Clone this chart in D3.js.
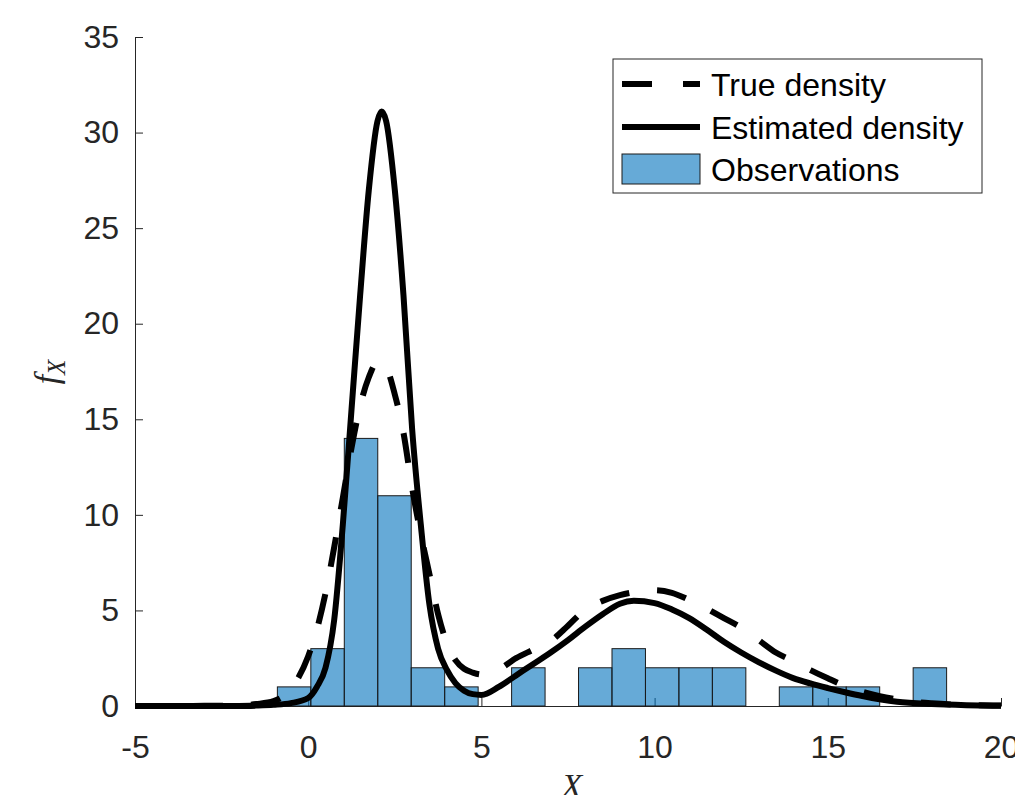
<!DOCTYPE html>
<html>
<head>
<meta charset="utf-8">
<script src="https://d3js.org/d3.v7.min.js"></script>
<style>
  body { margin: 0; background: #fff; }
  svg { display: block; }
</style>
</head>
<body>
<svg id="chart" width="1015" height="795"></svg>
<script>
// histogram of observations (bin edges + counts)
var binEdges = [-0.89, 0.076, 1.042, 2.008, 2.974, 3.94, 4.906, 5.872, 6.838, 7.804, 8.77,
  9.736, 10.702, 11.668, 12.634, 13.6, 14.566, 15.532, 16.498, 17.464, 18.43];
var binCounts = [1, 3, 14, 11, 2, 1, 0, 2, 0, 2, 3, 2, 2, 2, 0, 1, 1, 1, 0, 2];

// true density (dashed)
var trueX = [-5, -4, -3, -2, -1.5, -1, -0.5, 0, 0.25, 0.5, 0.75, 1, 1.25, 1.5, 1.75, 2, 2.25, 2.5, 2.75, 3,
  3.25, 3.5, 3.75, 4, 4.25, 4.5, 4.75, 5, 5.25, 5.5, 6, 6.5, 7, 7.5, 8, 8.5, 9, 9.5, 10, 10.5, 11, 11.5,
  12, 12.5, 13, 13.5, 14, 14.5, 15, 15.5, 16, 16.5, 17, 17.5, 18, 19, 20];
var trueY = [0, 0, 0.01, 0.03, 0.1, 0.25, 0.9, 2.6, 4.0, 5.9, 8.3, 10.9, 13.5, 15.7, 17.2, 18.0, 17.7, 16.3, 14.3, 11.4,
  9.0, 6.9, 4.8, 3.3, 2.4, 1.95, 1.75, 1.65, 1.7, 1.9, 2.5, 2.95, 3.4, 4.2, 5.05, 5.5, 5.8, 5.98, 6.06, 5.92, 5.55, 5.1,
  4.6, 4.1, 3.45, 2.8, 2.35, 1.88, 1.45, 1.05, 0.75, 0.52, 0.35, 0.22, 0.14, 0.05, 0.02];

// estimated density (solid)
var estX = [-5, -3, -2, -1.5, -1, -0.5, 0, 0.25, 0.5, 0.75, 1, 1.25, 1.5, 1.75, 2, 2.12, 2.25, 2.5, 2.75, 3,
  3.25, 3.5, 3.75, 4, 4.25, 4.5, 4.75, 5, 5.5, 6, 6.5, 7, 7.5, 8, 8.5, 9, 9.4, 10, 10.5, 11, 11.5, 12,
  12.5, 13, 13.5, 14, 14.5, 15, 15.5, 16, 17, 18, 19, 20];
var estY = [0, 0, 0, 0.02, 0.06, 0.15, 0.42, 1.0, 2.0, 4.5, 9.5, 15.5, 21.5, 27, 30.6, 31.1, 30.6, 27, 21.5, 14.5,
  9.5, 5.3, 3.0, 1.9, 1.2, 0.8, 0.62, 0.58, 1.0, 1.6, 2.2, 2.8, 3.45, 4.15, 4.8, 5.35, 5.5, 5.38, 5.05, 4.6, 4.0, 3.36,
  2.8, 2.3, 1.85, 1.46, 1.18, 0.94, 0.72, 0.52, 0.22, 0.1, 0.04, 0.01];

var xTicks = [-5, 0, 5, 10, 15, 20];
var yTicks = [0, 5, 10, 15, 20, 25, 30, 35];
var legendLabels = ["True density", "Estimated density", "Observations"];

var axisColor = "#262626";
var barColor = "#0072BD";
var font = "'Liberation Sans', Arial, Helvetica, sans-serif";

var svg = d3.select("#chart");
var plot = { left: 135, right: 1001, top: 37, bottom: 706 };

var x = d3.scaleLinear().domain([-5, 20]).range([plot.left, plot.right]);
var y = d3.scaleLinear().domain([0, 35]).range([plot.bottom, plot.top]);

// plain hyphen for negatives, like matlab
var fmt = function (d) { return String(d); };

// axes (drawn below the data, like matlab)
var xAxis = svg.append("g")
  .attr("transform", "translate(0," + plot.bottom + ")")
  .call(d3.axisBottom(x).tickValues(xTicks).tickFormat(fmt).tickSizeInner(-8).tickSizeOuter(0).tickPadding(29));
var yAxis = svg.append("g")
  .attr("transform", "translate(" + plot.left + ",0)")
  .call(d3.axisLeft(y).tickValues(yTicks).tickFormat(fmt).tickSizeInner(-8).tickSizeOuter(0).tickPadding(16));

[xAxis, yAxis].forEach(function (g) {
  g.selectAll("path, line").attr("stroke", axisColor).attr("stroke-width", 1);
  g.selectAll("text")
    .attr("fill", axisColor)
    .style("font-family", font)
    .style("font-size", "32px");
});

// curves
var trueData = trueX.map(function (d, i) { return [d, trueY[i]]; });
var estData = estX.map(function (d, i) { return [d, estY[i]]; });

var line = d3.line()
  .x(function (d) { return x(d[0]); })
  .y(function (d) { return y(d[1]); })
  .curve(d3.curveMonotoneX);

// histogram bars, semi transparent so the ticks show through
var bins = binCounts.map(function (c, i) {
  return { x0: binEdges[i], x1: binEdges[i + 1], count: c };
}).filter(function (d) { return d.count > 0; });

svg.append("g")
  .selectAll("rect")
  .data(bins)
  .enter()
  .append("rect")
  .attr("x", function (d) { return x(d.x0); })
  .attr("y", function (d) { return y(d.count); })
  .attr("width", function (d) { return x(d.x1) - x(d.x0); })
  .attr("height", function (d) { return y(0) - y(d.count); })
  .attr("fill", barColor)
  .attr("fill-opacity", 0.6)
  .attr("stroke", "#1a1a1a")
  .attr("stroke-width", 1);

svg.append("path")
  .datum(trueData)
  .attr("fill", "none")
  .attr("stroke", "#000")
  .attr("stroke-width", 6)
  .attr("stroke-dasharray", "30,28")
  .attr("d", line);

svg.append("path")
  .datum(estData)
  .attr("fill", "none")
  .attr("stroke", "#000")
  .attr("stroke-width", 6)
  .attr("d", line);

// axis labels (latex style)
var yLab = svg.append("text")
  .attr("transform", "translate(58,372) rotate(-90)")
  .attr("text-anchor", "middle")
  .attr("fill", axisColor)
  .style("font-family", "'Liberation Serif', 'Times New Roman', serif")
  .style("font-style", "italic")
  .style("font-size", "34px");
yLab.append("tspan").text("f");
yLab.append("tspan").attr("dy", 7).style("font-size", "25px").text("X");

svg.append("text")
  .attr("x", 572)
  .attr("y", 797)
  .attr("text-anchor", "middle")
  .attr("fill", axisColor)
  .style("font-family", "'Liberation Serif', 'Times New Roman', serif")
  .style("font-style", "italic")
  .style("font-size", "34px")
  .text("X");

// legend
var leg = svg.append("g");
leg.append("rect")
  .attr("x", 613).attr("y", 59)
  .attr("width", 369).attr("height", 134)
  .attr("fill", "#fff")
  .attr("stroke", axisColor)
  .attr("stroke-width", 1);

var rowY = [84, 127, 169];
leg.append("line")
  .attr("x1", 622).attr("x2", 700)
  .attr("y1", rowY[0]).attr("y2", rowY[0])
  .attr("stroke", "#000").attr("stroke-width", 6)
  .attr("stroke-dasharray", "30,31");
leg.append("line")
  .attr("x1", 622).attr("x2", 700)
  .attr("y1", rowY[1]).attr("y2", rowY[1])
  .attr("stroke", "#000").attr("stroke-width", 6);
leg.append("rect")
  .attr("x", 622).attr("y", rowY[2] - 15)
  .attr("width", 78).attr("height", 30)
  .attr("fill", barColor).attr("fill-opacity", 0.6)
  .attr("stroke", "#1a1a1a").attr("stroke-width", 1);

leg.selectAll("text.lab")
  .data(legendLabels)
  .enter()
  .append("text")
  .attr("class", "lab")
  .attr("x", 711)
  .attr("y", function (d, i) { return rowY[i] + 1; })
  .attr("dominant-baseline", "central")
  .attr("fill", "#000")
  .style("font-family", font)
  .style("font-size", "32px")
  .text(function (d) { return d; });
</script>
</body>
</html>
